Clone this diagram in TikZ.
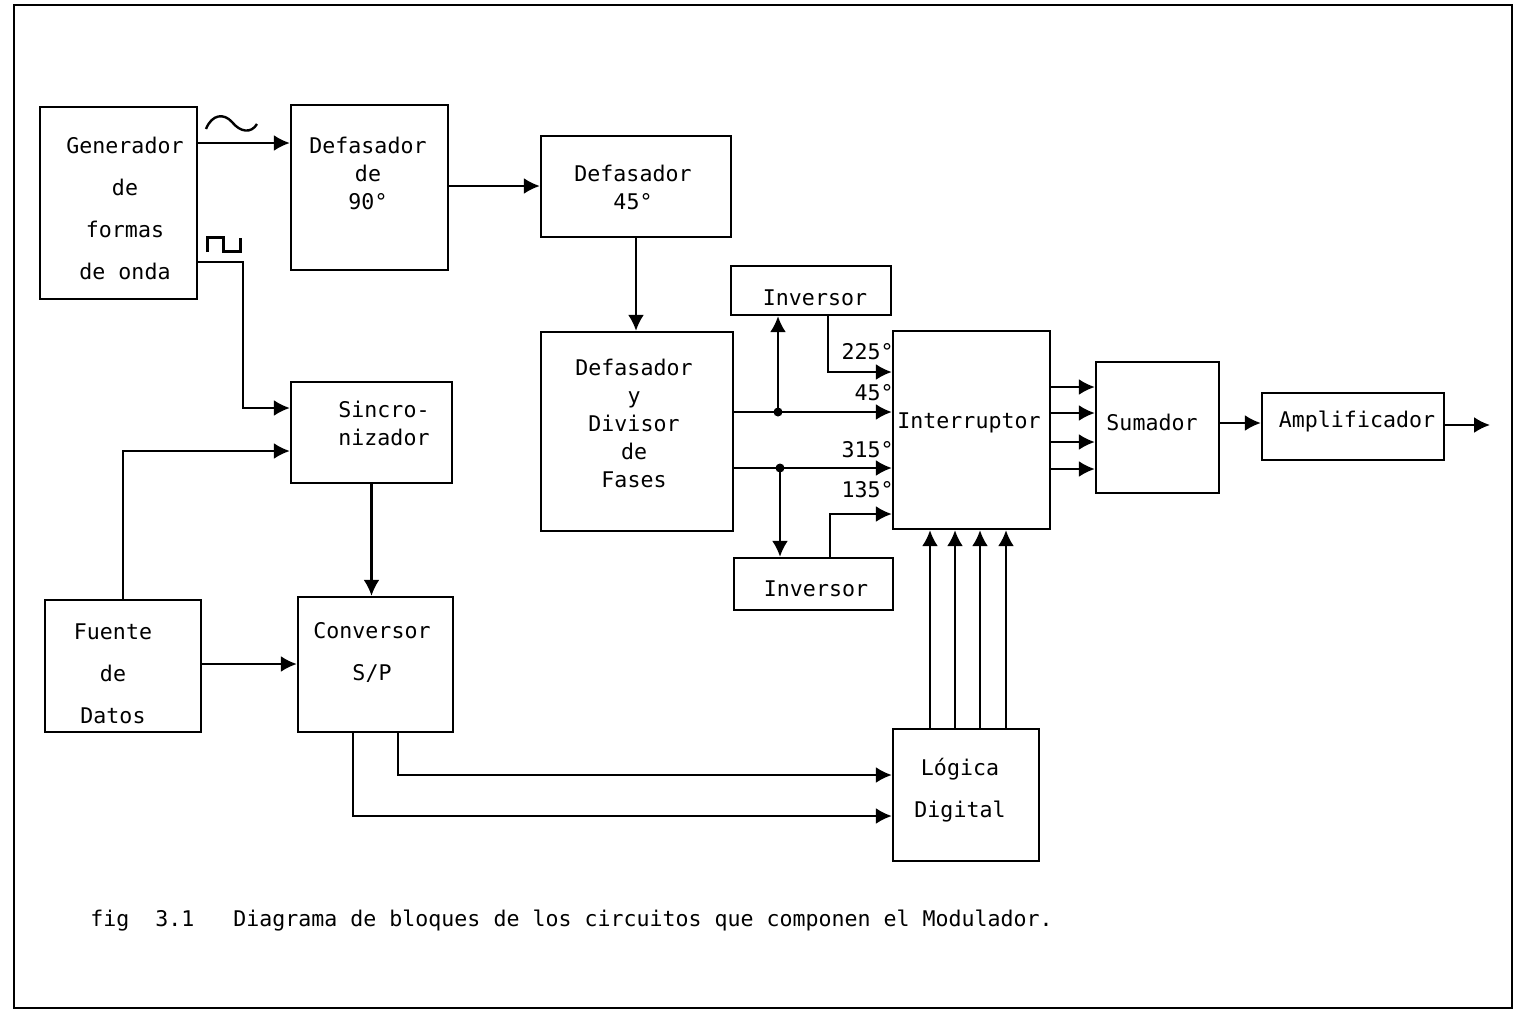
\documentclass[tikz,border=0pt]{standalone}
\usepackage{fontspec}
\newfontfamily\tw{DejaVu Sans Mono}
\usetikzlibrary{arrows.meta}
\begin{document}
\begin{tikzpicture}[x=0.5pt,y=-0.5pt,
 box/.style={draw,line width=1.2pt,inner sep=0pt},
 txt/.style={font=\tw\fontsize{10.8}{21}\selectfont,align=center,inner sep=0pt},
 txtc/.style={font=\tw\fontsize{10.8}{14}\selectfont,align=center,inner sep=0pt},
 wire/.style={line width=1.1pt},
 arr/.style={wire,-{Latex[length=8pt,width=8pt]}},
 jdot/.style={circle,fill,inner sep=0pt,minimum size=4.5pt}]
\useasboundingbox (0,0) rectangle (1517,1013);
\draw[line width=1pt] (14,5) rectangle (1512,1008);

% boxes
\node[box,minimum width=78.5pt,minimum height=96pt] (gen) at (118.5,203) {};
\node[box,minimum width=78.5pt,minimum height=82.5pt] (d90) at (369.5,187.5) {};
\node[box,minimum width=95pt,minimum height=50.5pt] (d45) at (636,186.5) {};
\node[box,minimum width=96pt,minimum height=99.5pt] (dyd) at (637,431.5) {};
\node[box,minimum width=80pt,minimum height=24.5pt] (invT) at (811,290.5) {};
\node[box,minimum width=78.5pt,minimum height=99pt] (intr) at (971.5,430) {};
\node[box,minimum width=79.5pt,minimum height=26pt] (invB) at (813.5,584) {};
\node[box,minimum width=61.5pt,minimum height=65.5pt] (sum) at (1157.5,427.5) {};
\node[box,minimum width=91pt,minimum height=33.5pt] (amp) at (1353,426.5) {};
\node[box,minimum width=80.5pt,minimum height=50.5pt] (sinc) at (371.5,432.5) {};
\node[box,minimum width=78pt,minimum height=66pt] (fue) at (123,666) {};
\node[box,minimum width=77.5pt,minimum height=67.5pt] (conv) at (375.5,664.5) {};
\node[box,minimum width=73pt,minimum height=66pt] (log) at (966,795) {};

% texts
\node[txt] (gent) at (125,208) {Generador\\de\\formas\\de onda};
\node[txtc] (d90t) at (368,173) {Defasador\\de\\90°};
\node[txtc] (d45t) at (633,187) {Defasador\\45°};
\node[txtc] (dydt) at (634,423) {Defasador\\y\\Divisor\\de\\Fases};
\node[txt] (invTt) at (815,298) {Inversor};
\node[txt] (intrt) at (969,423) {Interruptor};
\node[txt] (invBt) at (816,589) {Inversor};
\node[txt] (sumt) at (1152,422) {Sumador};
\node[txt] (ampt) at (1357,421) {Amplificador};
\node[txtc] (sinct) at (384,423) {Sincro-\\nizador};
\node[txt] (fuet) at (113,674) {Fuente\\de\\Datos};
\node[txt] (convt) at (372,652) {Conversor\\S/P};
\node[txt] (logt) at (960,790) {Lógica\\Digital};

% angle labels
\node[txt,anchor=east] (l225) at (894,352) {225°};
\node[txt,anchor=east] (l45) at (894,393) {45°};
\node[txt,anchor=east] (l315) at (894,450) {315°};
\node[txt,anchor=east] (l135) at (894,490) {135°};

% caption
\node[txt,anchor=west] (cap) at (90,921) {fig~~3.1~~~Diagrama de bloques de los circuitos que componen el Modulador.};

% waveform symbols
\draw[line width=1.2pt] (206,129) .. controls (212,114) and (224,113) .. (232,122)
  .. controls (240,132) and (251,134) .. (257,124);
\draw[line width=1.5pt] (207,252) -- (207,237) -- (223,237) -- (223,251) -- (240,251) -- (240,238);

% connectors
\draw[arr] (gen.east |- 0,143) -- (d90.west |- 0,143);
\draw[arr] (gen.east |- 0,262) -- (243,262) -- (243,408) -- (sinc.west |- 0,408);
\draw[arr] (d90.east |- 0,186) -- (d45.west |- 0,186);
\draw[arr] (d45.south) -- (d45.south |- dyd.north);
\draw[arr] (fue.north) |- (sinc.west |- 0,451);
\draw[arr] (sinc.south) -- (sinc.south |- conv.north);
\draw[arr] (fue.east |- 0,664) -- (conv.west |- 0,664);
\draw[arr] (conv.south -| 398,0) -- (398,775) -- (log.west |- 0,775);
\draw[arr] (conv.south -| 353,0) -- (353,816) -- (log.west |- 0,816);

\node[jdot] (j1) at (778,412) {};
\node[jdot] (j2) at (780,468) {};
\draw[arr] (dyd.east |- 0,412) -- (intr.west |- 0,412);
\draw[arr] (dyd.east |- 0,468) -- (intr.west |- 0,468);
\draw[arr] (j1.center) -- (j1.center |- invT.south);
\draw[arr] (j2.center) -- (j2.center |- invB.north);
\draw[arr] (invT.south -| 828,0) -- (828,372) -- (intr.west |- 0,372);
\draw[arr] (invB.north -| 830,0) -- (830,514) -- (intr.west |- 0,514);

\foreach \yy in {387,413,442,469}
  \draw[arr] (intr.east |- 0,\yy) -- (sum.west |- 0,\yy);
\draw[arr] (sum.east |- 0,423) -- (amp.west |- 0,423);
\coordinate (out) at (1490,425);
\draw[arr] (amp.east |- out) -- (out);
\foreach \xx in {930,955,980,1006}
  \draw[arr] (log.north -| \xx,0) -- (intr.south -| \xx,0);
\end{tikzpicture}
\end{document}
